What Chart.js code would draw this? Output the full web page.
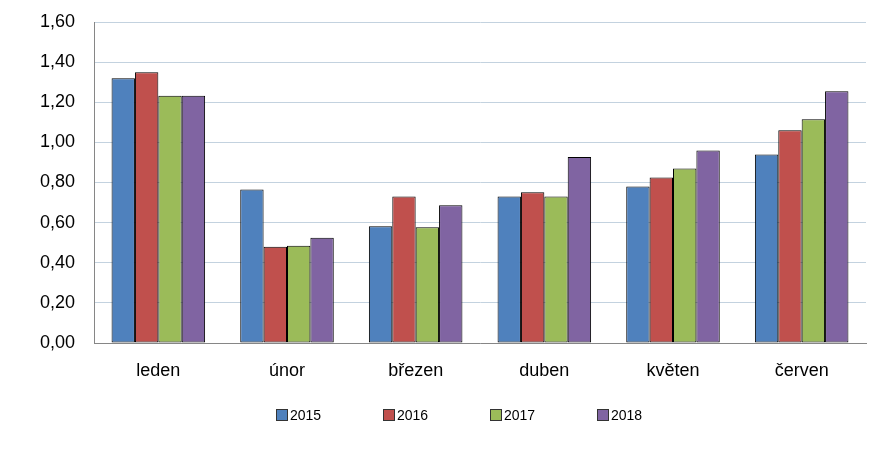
<!DOCTYPE html>
<html>
<head>
<meta charset="utf-8">
<script src="https://cdn.jsdelivr.net/npm/chart.js@4"></script>
<style>
  html, body { margin: 0; padding: 0; background: #fff; }
  #wrap { position: relative; width: 891px; height: 450px; }
  #legend {
    position: absolute; left: 276px; top: 406px;
    display: flex; font: 14px "Liberation Sans", sans-serif; color: #000;
  }
  #legend .item { display: flex; align-items: center; width: 107px; height: 18px; }
  #legend .box { width: 10px; height: 10px; border: 1px solid #333; margin-right: 2px; }
</style>
</head>
<body>
<div id="wrap">
  <canvas id="chart" width="891" height="450"></canvas>
  <div id="legend"></div>
</div>
<script>
// categories (months) and one value list per year
const months = ['leden', 'únor', 'březen', 'duben', 'květen', 'červen'];
const years = ['2015', '2016', '2017', '2018'];
const values2015 = [1.32, 0.765, 0.582, 0.73, 0.78, 0.94];
const values2016 = [1.35, 0.48, 0.73, 0.752, 0.825, 1.06];
const values2017 = [1.233, 0.485, 0.577, 0.73, 0.87, 1.115];
const values2018 = [1.233, 0.525, 0.687, 0.927, 0.96, 1.255];
const yTicks = [0, 0.2, 0.4, 0.6, 0.8, 1.0, 1.2, 1.4, 1.6];

const COLORS = ['#4F81BD', '#C0504D', '#9BBB59', '#8064A2'];
const GRID = '#C3D2DF';
const AXIS = '#868686';

Chart.defaults.font.family = '"Liberation Sans", sans-serif';
Chart.defaults.color = '#000';

const series = [values2015, values2016, values2017, values2018];

const chart = new Chart(document.getElementById('chart'), {
  type: 'bar',
  data: {
    labels: months,
    datasets: series.map((vals, i) => ({
      label: years[i],
      data: vals,
      backgroundColor: COLORS[i],
      borderColor: '#000',
      borderWidth: 1,
      borderSkipped: false,
      categoryPercentage: 0.727,
      barPercentage: 1,
    })),
  },
  options: {
    responsive: false,
    animation: false,
    layout: { padding: { top: 22, right: 25, bottom: 67, left: 0 } },
    plugins: {
      legend: { display: false },
      tooltip: { enabled: false },
    },
    scales: {
      x: {
        grid: { display: false, drawTicks: false },
        border: { display: true, color: AXIS, width: 1 },
        ticks: { font: { size: 18 }, padding: 17, maxRotation: 0 },
        afterFit: (s) => { s.height = 40; },
      },
      y: {
        min: yTicks[0],
        max: yTicks[yTicks.length - 1],
        afterBuildTicks: (s) => { s.ticks = yTicks.map((v) => ({ value: v })); },
        grid: { color: GRID, drawTicks: false },
        border: { display: true, color: AXIS, width: 1 },
        ticks: {
          font: { size: 18 },
          padding: 19,
          callback: (v) => v.toFixed(2).replace('.', ','),
        },
        // fixed axis width; drop the label overflow padding so the top sits at the layout padding
        afterFit: (s) => { s.width = 94; s.paddingTop = 0; s.paddingBottom = 0; },
      },
    },
  },
});

// html legend built from the datasets
const legendEl = document.getElementById('legend');
chart.data.datasets.forEach((ds) => {
  const item = document.createElement('div');
  item.className = 'item';
  const box = document.createElement('span');
  box.className = 'box';
  box.style.background = ds.backgroundColor;
  const txt = document.createElement('span');
  txt.textContent = ds.label;
  item.appendChild(box);
  item.appendChild(txt);
  legendEl.appendChild(item);
});
</script>
</body>
</html>
